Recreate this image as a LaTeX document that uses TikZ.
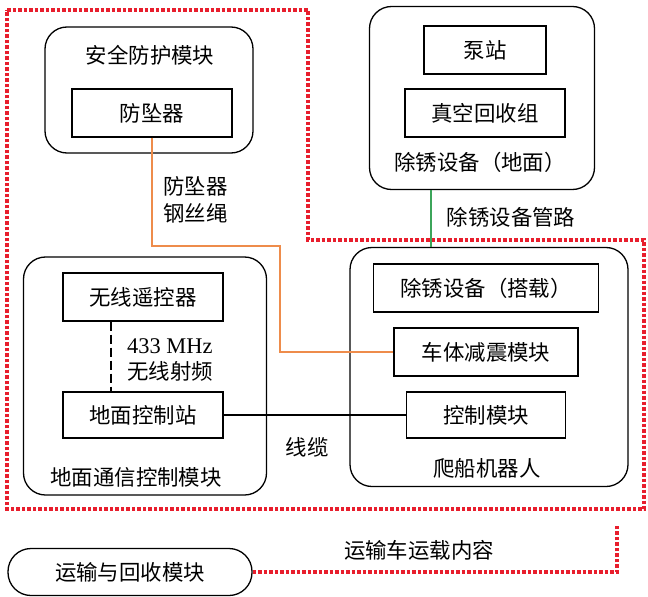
\documentclass[tikz,border=0pt]{standalone}
\usepackage{fontspec}
\setmainfont{Liberation Serif}
\newfontfamily\cjk{Noto Sans CJK SC}
\usepackage{tikz}
\usetikzlibrary{positioning, calc}

\definecolor{ropeorange}{RGB}{238,140,75}
\definecolor{pipegreen}{RGB}{60,165,90}
\definecolor{borderred}{RGB}{232,30,45}

\begin{document}
\begin{tikzpicture}[
    x=1bp, y=-1bp,
    every node/.style={font=\cjk\fontsize{21.5}{26}\selectfont, inner sep=0pt},
    module/.style={draw, line width=1.3bp, rounded corners=22bp},
    unit/.style={draw, line width=1.3bp, minimum height=48bp},
    rope/.style={ropeorange, line width=1.4bp},
    pipe/.style={pipegreen, line width=1.2bp},
    radio/.style={line width=2.2bp, dash pattern=on 9bp off 4bp},
    cable/.style={line width=1.1bp},
    border/.style={borderred, line width=3.2bp, dash pattern=on 3.5bp off 2bp}
]
\useasboundingbox (0,0) rectangle (648,597);

% Area do robo
\draw[border] (7,10) -- (308,10) -- (308,240) -- (644,240) -- (644,509) -- (7,509) -- cycle;

% Modulos
\node[module, minimum width=208bp, minimum height=126bp] (safety) at (149,90) {};
\node[module, minimum width=225bp, minimum height=183bp] (ground) at (482,98) {};
\node[module, minimum width=243bp, minimum height=238bp] (comm) at (145,376) {};
\node[module, minimum width=278bp, minimum height=239bp] (robot) at (489,367) {};
\node[module, rounded corners=23bp, minimum width=244bp, minimum height=47bp] (transport) at (130,572) {运输与回收模块};

% Titulos
\node (safetytitle) at (150,55) {安全防护模块};
\node (groundtitle) at (480,162) {除锈设备（地面）};
\node (commtitle) at (136,477) {地面通信控制模块};
\node (robottitle) at (487,468) {爬船机器人};

% Unidades
\node[unit, minimum width=160bp] (fzq) at (152,113) {防坠器};
\node[unit, minimum width=122bp] (pump) at (485,50) {泵站};
\node[unit, minimum width=160bp] (vac) at (485,113) {真空回收组};
\node[unit, minimum width=160bp] (remote) at (143,297) {无线遥控器};
\node[unit, minimum width=160bp, minimum height=46bp] (station) at (143,415) {地面控制站};
\node[unit, minimum width=225bp] (onboard) at (486,288) {除锈设备（搭载）};
\node[unit, minimum width=184bp] (damper) at (486,352) {车体减震模块};
\node[unit, minimum width=159bp, minimum height=46bp] (ctrl) at (486,415) {控制模块};

% Ligacoes
\coordinate (bend) at (280,246);
\draw[rope] (fzq.south) |- (bend) |- (damper.west);
\node[align=left, anchor=west] (ropelabel) at (163,200) {防坠器\\[1bp]钢丝绳};

\draw[pipe] ([xshift=-51bp]ground.south) -- ([xshift=-51bp]ground.south |- robot.north);
\node (pipelabel) at (511,217) {除锈设备管路};

\draw[radio] ([xshift=-32bp]remote.south) -- ([xshift=-32bp]station.north);
\node[align=left, anchor=west] (rflabel) at (127,360) {{\rmfamily\fontsize{22.5}{26}\selectfont 433 MHz}\\[1bp]无线射频};

\draw[cable] (station.east) -- (ctrl.west);
\node (cablelabel) at (307,447) {线缆};

\coordinate (carrytip) at (617,524);
\draw[border] (transport.east) -| (carrytip);
\node (carrylabel) at (419,550) {运输车运载内容};

\end{tikzpicture}
\end{document}
